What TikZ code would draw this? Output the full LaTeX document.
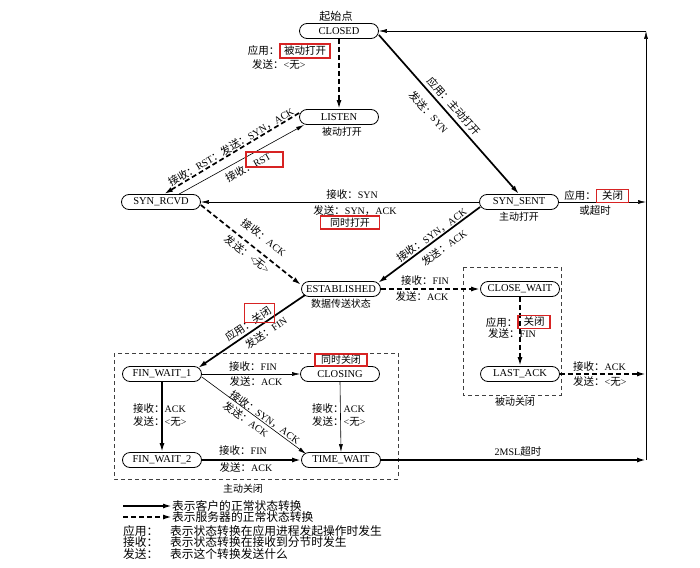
\documentclass[tikz,border=0pt]{standalone}
\usepackage{fontspec}
\setmainfont{Liberation Serif}
\newfontfamily\cjk{Noto Sans CJK SC}[Scale=1.05]
\usetikzlibrary{arrows.meta}
\definecolor{boxred}{RGB}{215,35,35}
\newcommand\zh[1]{{\cjk #1}}
\begin{document}
\begin{tikzpicture}[x=1pt,y=-1pt,
  state/.style={draw, line width=0.8pt, rounded corners=7.5pt, minimum width=79pt, minimum height=15pt, inner sep=0pt, font=\fontsize{10.5}{12}\selectfont},
  lab/.style={inner sep=0pt, font=\fontsize{10}{11}\selectfont},
  sublab/.style={inner sep=0pt, font=\fontsize{9.5}{11}\selectfont},
  leg/.style={inner sep=0pt, anchor=west, font=\fontsize{11.2}{12}\selectfont},
  redbox/.style={draw=boxred, line width=1.1pt, inner sep=0pt},
  thickarr/.style={line width=1.7pt, -{Latex[length=9pt,width=5pt]}},
  thinarr/.style={line width=0.6pt, -{Latex[length=8pt,width=4pt]}},
  dasharr/.style={line width=1.7pt, dash pattern=on 5pt off 3pt, -{Latex[length=9pt,width=5pt]}},
  grpbox/.style={draw=black!75, line width=0.6pt, dash pattern=on 4pt off 3pt}]
\fill[white] (0,0) rectangle (700,567);
\useasboundingbox (0,0) rectangle (700,567);

% states
\node[state] (CLOSED) at (339,31) {CLOSED};
\node[state] (LISTEN) at (339,117) {LISTEN};
\node[state] (SYNRCVD) at (161,202) {SYN\_RCVD};
\node[state] (SYNSENT) at (519,202) {SYN\_SENT};
\node[state] (EST) at (341,289) {ESTABLISHED};
\node[state] (CW) at (520,289) {CLOSE\_WAIT};
\node[state] (LA) at (520,374) {LAST\_ACK};
\node[state] (FW1) at (162,374) {FIN\_WAIT\_1};
\node[state] (CLOSING) at (340,374) {CLOSING};
\node[state] (FW2) at (162,460) {FIN\_WAIT\_2};
\node[state] (TW) at (341,460) {TIME\_WAIT};

% group boxes
\draw[grpbox] (114,353) rectangle (398,479);
\draw[grpbox] (463,267) rectangle (561,395);

% state sub-labels
\node[lab, font=\fontsize{10.5}{12}\selectfont] (s-closed) at (336,16) {\zh{起始点}};
\node[sublab] (s-listen) at (342,132) {\zh{被动打开}};
\node[sublab] (s-synsent) at (519,217) {\zh{主动打开}};
\node[sublab] (s-est) at (341,304) {\zh{数据传送状态}};
\node[sublab] (s-passive) at (515,402) {\zh{被动关闭}};
\node[sublab] (s-active) at (243,489) {\zh{主动关闭}};

% right-hand return line
\coordinate (rtop) at (646,31);
\coordinate (rbot) at (646,460);

% connectors
\draw[dasharr] (CLOSED.south) -- (LISTEN.north);
\draw[thickarr] ([yshift=-4pt]CLOSED.east) -- (SYNSENT.north);
\draw[dasharr] ([yshift=4pt]LISTEN.west) -- ([xshift=3pt]SYNRCVD.north);
\draw[thinarr] ([xshift=18pt]SYNRCVD.north) -- ([xshift=5pt]LISTEN.south west);
\draw[thinarr] (SYNSENT.west) -- (SYNRCVD.east);
\draw[dasharr] ([yshift=-3pt]SYNRCVD.east) -- ([yshift=4pt]EST.west);
\draw[thickarr] ([xshift=1pt,yshift=-5pt]SYNSENT.west) -- ([xshift=-3pt,yshift=6pt]EST.east);
\draw[dasharr] (EST.east) -- (CW.west);
\draw[dasharr] (CW.south) -- (LA.north);
\draw[thickarr] ([xshift=4pt,yshift=-6pt]EST.west) -- ([xshift=-4pt,yshift=6pt]FW1.east);
\draw[thinarr] (FW1.east) -- (CLOSING.west);
\draw[thickarr] (FW1.south) -- (FW2.north);
\draw[thinarr] ([yshift=-3pt]FW1.east) -- ([xshift=5pt,yshift=6pt]TW.west);
\draw[thinarr] (CLOSING.south) -- (TW.north);
\draw[thickarr] (FW2.east) -- (TW.west);
\draw[thickarr] (TW.east) -- (rbot);
\draw[thinarr] (SYNSENT.east) -- (SYNSENT.east -| rtop);
\draw[dasharr] (LA.east) -- (LA.east -| rtop);
\draw[thinarr] (rbot) -- (rtop);
\draw[thinarr] (rtop) -- (CLOSED.east);

% CLOSED -> LISTEN
\node[redbox, lab, minimum width=50pt, minimum height=14pt] (r-pasv) at (305,51) {\zh{被动打开}};
\node[lab, anchor=east] (l-pasv1) at (r-pasv.west) {\zh{应用：}};
\node[lab, anchor=west] (l-pasv2) at (252,65) {\zh{发送：}<\zh{无}>};

% CLOSED -> SYN_SENT
\node[lab, rotate=-48] (l-act1) at (454,106) {\zh{应用：主动打开}};
\node[lab, rotate=-48] (l-act2) at (429,112) {\zh{发送：}SYN};

% LISTEN <-> SYN_RCVD
\node[lab, rotate=30.6] (l-lsr1) at (231,147) {\zh{接收：}RST\zh{：发送：}SYN\zh{，}ACK};
\node[lab, rotate=29] (l-lsr2) at (248,167) {\zh{接收：}RST};
\node[redbox, minimum width=37pt, minimum height=15pt] (r-rst) at (264.5,159.5) {};

% SYN_SENT -> SYN_RCVD
\node[lab] (l-sim1) at (352,195) {\zh{接收：}SYN};
\node[lab] (l-sim2) at (355,211) {\zh{发送：}SYN\zh{，}ACK};
\node[redbox, sublab, minimum width=59pt, minimum height=13pt] (r-sim) at (350,222.5) {\zh{同时打开}};

% SYN_RCVD -> ESTABLISHED
\node[lab, rotate=-37.7] (l-re1) at (264,237.5) {\zh{接收：}ACK};
\node[lab, rotate=-37.7] (l-re2) at (247.5,254) {\zh{发送：}<\zh{无}>};

% SYN_SENT -> ESTABLISHED
\node[lab, rotate=36] (l-se1) at (431.7,235) {\zh{接收：}SYN\zh{，}ACK};
\node[lab, rotate=36] (l-se2) at (444,247.5) {\zh{发送：}ACK};

% SYN_SENT -> right
\node[redbox, lab, minimum width=32pt, minimum height=13pt] (r-ssclose) at (612.5,196) {\zh{关闭}};
\node[lab, anchor=east] (l-ss1) at (r-ssclose.west) {\zh{应用：}};
\node[lab] (l-ss2) at (595,211) {\zh{或超时}};

% ESTABLISHED -> CLOSE_WAIT
\node[lab] (l-ec1) at (425,281) {\zh{接收：}FIN};
\node[lab] (l-ec2) at (422,297) {\zh{发送：}ACK};

% CLOSE_WAIT -> LAST_ACK
\node[redbox, lab, minimum width=32pt, minimum height=13pt] (r-cwclose) at (534,322) {\zh{关闭}};
\node[lab, anchor=east] (l-cl1) at (r-cwclose.west) {\zh{应用：}};
\node[lab, anchor=west] (l-cl2) at (488,333) {\zh{发送：}FIN};

% LAST_ACK -> right
\node[lab, anchor=west] (l-la1) at (573,367) {\zh{接收：}ACK};
\node[lab, anchor=west] (l-la2) at (573,381) {\zh{发送：}<\zh{无}>};

% ESTABLISHED -> FIN_WAIT_1
\node[lab, rotate=34] (l-ef1) at (248,324) {\zh{应用：关闭}};
\node[redbox, minimum width=30pt, minimum height=19pt] (r-efclose) at (259.2,312.8) {};
\node[lab, rotate=34] (l-ef2) at (265.8,332.5) {\zh{发送：}FIN};

% FIN_WAIT_1 -> CLOSING
\node[lab] (l-fc1) at (253,367) {\zh{接收：}FIN};
\node[lab] (l-fc2) at (256,381) {\zh{发送：}ACK};
\node[redbox, sublab, minimum width=52pt, minimum height=12pt] (r-simclose) at (341,360) {\zh{同时关闭}};

% FIN_WAIT_1 -> FIN_WAIT_2
\node[lab, anchor=west] (l-ff1) at (133,409) {\zh{接收：}ACK};
\node[lab, anchor=west] (l-ff2) at (133,421) {\zh{发送：}<\zh{无}>};

% CLOSING -> TIME_WAIT
\node[lab, anchor=west] (l-ct1) at (312,409) {\zh{接收：}ACK};
\node[lab, anchor=west] (l-ct2) at (312,421) {\zh{发送：}<\zh{无}>};

% FIN_WAIT_1 -> TIME_WAIT
\node[lab, rotate=-35.4] (l-ft1) at (265,417) {\zh{接收：}SYN\zh{，}ACK};
\node[lab, rotate=-35.4] (l-ft2) at (246,419) {\zh{发送：}ACK};

% FIN_WAIT_2 -> TIME_WAIT
\node[lab] (l-wt1) at (243,451) {\zh{接收：}FIN};
\node[lab] (l-wt2) at (246,467) {\zh{发送：}ACK};

% TIME_WAIT -> right
\node[lab] (l-msl) at (518,452) {2MSL\zh{超时}};

% legend
\coordinate (lg1a) at (123,506);
\coordinate (lg1b) at (172,506);
\coordinate (lg2a) at (123,517);
\coordinate (lg2b) at (172,517);
\draw[thickarr] (lg1a) -- (lg1b);
\draw[dasharr] (lg2a) -- (lg2b);
\node[leg] (lg1t) at (lg1b) {\zh{表示客户的正常状态转换}};
\node[leg] (lg2t) at (lg2b) {\zh{表示服务器的正常状态转换}};
\node[leg] (lg3k) at (123,531) {\zh{应用：}};
\node[leg] (lg3t) at (170,531) {\zh{表示状态转换在应用进程发起操作时发生}};
\node[leg] (lg4k) at (123,542.5) {\zh{接收：}};
\node[leg] (lg4t) at (170,542.5) {\zh{表示状态转换在接收到分节时发生}};
\node[leg] (lg5k) at (123,554) {\zh{发送：}};
\node[leg] (lg5t) at (170,554) {\zh{表示这个转换发送什么}};
\end{tikzpicture}
\end{document}
